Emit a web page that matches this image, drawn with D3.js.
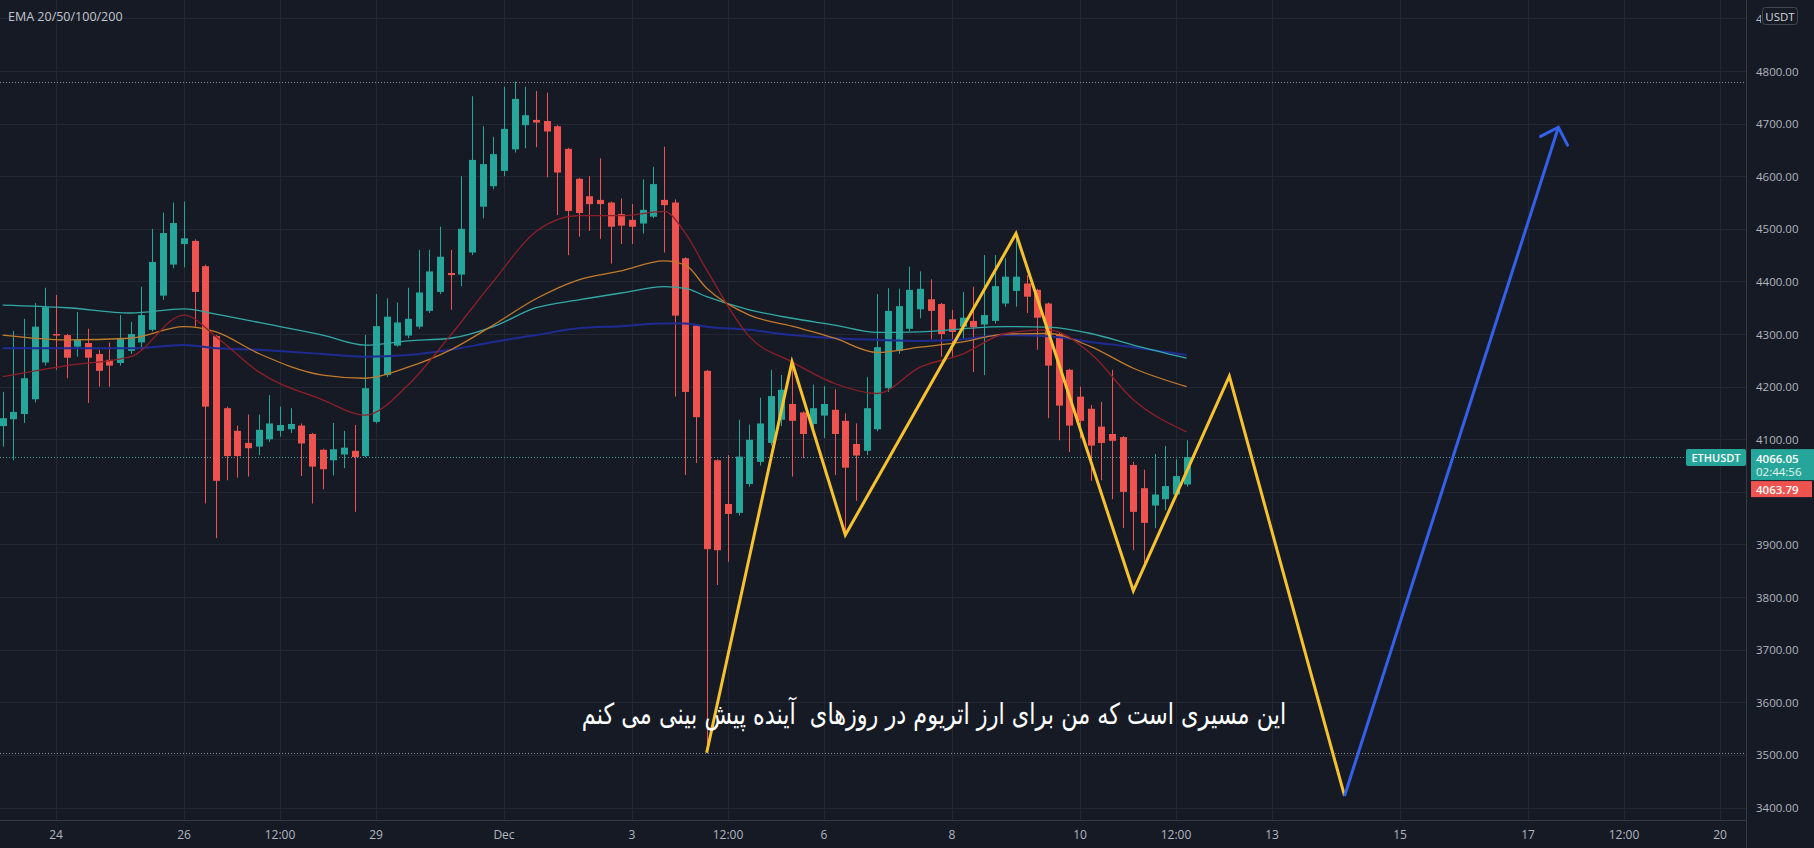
<!DOCTYPE html>
<html>
<head>
<meta charset="utf-8">
<script src="https://cdn.jsdelivr.net/npm/d3@7"></script>
<style>
  body { margin: 0; background: #161a25; overflow: hidden; }
  svg { display: block; }
</style>
</head>
<body>
<svg id="chart"></svg>
<script>
// ETHUSDT 4h candles, first one opens Nov 23 2021 04:00 UTC
const firstCandle = Date.UTC(2021, 10, 23, 4)
const ohlc = [
  [4125, 4190, 4086, 4140], [4138, 4306, 4060, 4152], [4148, 4329, 4131, 4216], [4176, 4359, 4170, 4314],
  [4246, 4388, 4240, 4351], [4300, 4374, 4232, 4298], [4298, 4300, 4216, 4255], [4276, 4342, 4257, 4289],
  [4283, 4310, 4169, 4255], [4262, 4270, 4200, 4230], [4251, 4284, 4200, 4240], [4245, 4336, 4240, 4292],
  [4268, 4323, 4262, 4300], [4284, 4390, 4270, 4336], [4308, 4500, 4305, 4437], [4373, 4531, 4365, 4492],
  [4432, 4550, 4425, 4511], [4471, 4552, 4427, 4482], [4477, 4480, 4314, 4380], [4429, 4432, 3978, 4162],
  [4296, 4298, 3912, 4021], [4159, 4162, 4022, 4068], [4116, 4126, 4027, 4068], [4093, 4147, 4029, 4083],
  [4086, 4147, 4070, 4118], [4100, 4184, 4095, 4130], [4116, 4162, 4105, 4127], [4119, 4159, 4112, 4129],
  [4126, 4130, 4030, 4092], [4110, 4112, 3978, 4048], [4080, 4082, 4005, 4043], [4060, 4131, 4031, 4081],
  [4071, 4116, 4045, 4084], [4078, 4127, 3962, 4066], [4068, 4298, 4066, 4197], [4133, 4376, 4130, 4315],
  [4222, 4368, 4218, 4333], [4278, 4360, 4276, 4322], [4297, 4388, 4292, 4329], [4314, 4460, 4310, 4379],
  [4344, 4460, 4340, 4419], [4380, 4504, 4376, 4447], [4416, 4460, 4346, 4412], [4413, 4600, 4391, 4500],
  [4455, 4752, 4450, 4631], [4542, 4695, 4520, 4623], [4581, 4675, 4575, 4642], [4610, 4770, 4600, 4690],
  [4651, 4780, 4645, 4747], [4697, 4770, 4653, 4716], [4707, 4762, 4655, 4702], [4705, 4759, 4598, 4685],
  [4695, 4697, 4526, 4607], [4652, 4654, 4450, 4534], [4595, 4597, 4485, 4530], [4562, 4600, 4496, 4547],
  [4555, 4634, 4481, 4547], [4550, 4552, 4434, 4504], [4528, 4558, 4471, 4506], [4517, 4547, 4471, 4504],
  [4510, 4594, 4491, 4536], [4523, 4618, 4520, 4585], [4555, 4656, 4455, 4545], [4550, 4556, 4181, 4335],
  [4444, 4446, 4032, 4190], [4316, 4318, 4055, 4142], [4230, 4232, 3503, 3891], [4060, 4062, 3823, 3889],
  [3977, 4070, 3867, 3958], [3960, 4137, 3955, 4067], [4015, 4128, 4010, 4099], [4057, 4179, 4050, 4130],
  [4093, 4232, 4088, 4182], [4137, 4222, 4125, 4194], [4167, 4244, 4029, 4135], [4151, 4153, 4064, 4110],
  [4129, 4204, 4108, 4159], [4145, 4201, 4102, 4167], [4156, 4195, 4032, 4110], [4135, 4149, 3918, 4046],
  [4091, 4130, 3983, 4069], [4078, 4218, 4070, 4159], [4119, 4376, 4115, 4275], [4197, 4387, 4190, 4344],
  [4268, 4386, 4262, 4353], [4310, 4428, 4305, 4384], [4347, 4419, 4330, 4386], [4366, 4404, 4290, 4344],
  [4357, 4359, 4257, 4300], [4328, 4346, 4257, 4304], [4314, 4380, 4292, 4331], [4325, 4390, 4228, 4313],
  [4318, 4450, 4222, 4336], [4325, 4450, 4320, 4391], [4358, 4444, 4352, 4409], [4382, 4491, 4352, 4409],
  [4396, 4412, 4340, 4371], [4384, 4386, 4270, 4331], [4358, 4360, 4140, 4240], [4300, 4302, 4098, 4164],
  [4232, 4234, 4076, 4126], [4181, 4200, 4102, 4135], [4158, 4165, 4021, 4088], [4124, 4171, 4022, 4093],
  [4110, 4232, 3986, 4097], [4104, 4106, 3931, 4000], [4051, 4057, 3889, 3962], [4007, 4042, 3855, 3941],
  [3974, 4072, 3931, 3995], [3986, 4087, 3965, 4011], [3995, 4062, 3990, 4030], [4014, 4098, 4010, 4066.05]
]

// EMA values at these candle indices
const emaIdx = [0, 6, 12, 17, 20, 24, 30, 34, 38, 42, 46, 50, 54, 58, 62, 64, 66, 70, 74, 78, 82, 86, 90, 94, 98, 102, 106, 111]
const ema20 = [4219, 4240, 4257, 4336, 4295, 4228, 4175, 4146, 4203, 4298, 4400, 4495, 4525, 4525, 4533, 4492, 4422, 4295, 4247, 4206, 4187, 4237, 4262, 4301, 4308, 4263, 4175, 4114]
const ema50 = [4298, 4289, 4292, 4314, 4304, 4263, 4222, 4216, 4237, 4270, 4317, 4367, 4403, 4420, 4439, 4431, 4387, 4336, 4315, 4292, 4265, 4275, 4285, 4300, 4301, 4276, 4235, 4200]
const ema100 = [4355, 4350, 4340, 4348, 4338, 4322, 4298, 4279, 4287, 4292, 4314, 4350, 4365, 4378, 4390, 4387, 4371, 4346, 4330, 4317, 4303, 4304, 4310, 4314, 4313, 4301, 4279, 4254]
const ema200 = [4273, 4273, 4273, 4279, 4273, 4270, 4262, 4257, 4260, 4270, 4285, 4298, 4311, 4315, 4320, 4320, 4314, 4308, 4298, 4292, 4289, 4287, 4290, 4298, 4296, 4285, 4275, 4260]

// drawn path: [candle index, price]
const zigzag = [[66, 3504], [74, 4247], [79, 3918], [95, 4491], [106, 3812], [115, 4220], [125.8, 3422]]
const arrowPath = [[125.8, 3422], [145.85, 4693]]

const priceTicks = [3400, 3500, 3600, 3700, 3800, 3900, 4000, 4100, 4200, 4300, 4400, 4500, 4600, 4700, 4800, 4900]
const timeTicks = [
  ['2021-11-24T00:00Z', '24'], ['2021-11-26T00:00Z', '26'], ['2021-11-27T12:00Z', '12:00'], ['2021-11-29T00:00Z', '29'],
  ['2021-12-01T00:00Z', 'Dec'], ['2021-12-03T00:00Z', '3'], ['2021-12-04T12:00Z', '12:00'], ['2021-12-06T00:00Z', '6'],
  ['2021-12-08T00:00Z', '8'], ['2021-12-10T00:00Z', '10'], ['2021-12-11T12:00Z', '12:00'], ['2021-12-13T00:00Z', '13'],
  ['2021-12-15T00:00Z', '15'], ['2021-12-17T00:00Z', '17'], ['2021-12-18T12:00Z', '12:00'], ['2021-12-20T00:00Z', '20']
]

const lastPrice = 4066.05
const bidPrice = 4063.79
const countdown = '02:44:56'
const noteText = 'این مسیری است که من برای ارز اتریوم در روزهای  آینده پیش بینی می کنم'

const W = 1814, H = 848
const plotRight = 1746, plotBottom = 820
const upColor = '#26a69a', downColor = '#ef5350'
const uiFont = '"Open Sans", "Liberation Sans", sans-serif'

const svg = d3.select('#chart').attr('width', W).attr('height', H)

const x = d3.scaleUtc()
  .domain([new Date(Date.UTC(2021, 10, 24)), new Date(Date.UTC(2021, 11, 20))])
  .range([56, 1720])
const y = d3.scaleLinear().domain([3400, 4800]).range([807.5, 71])
const candleTime = i => new Date(firstCandle + i * 4 * 3600 * 1000)

svg.append('rect').attr('width', W).attr('height', H).attr('fill', '#161a25')

const defs = svg.append('defs')
defs.append('clipPath').attr('id', 'plot')
  .append('rect').attr('width', plotRight).attr('height', plotBottom)
// the top price label sits under the currency badge, only its first digit shows
defs.append('clipPath').attr('id', 'badgeCut')
  .append('rect').attr('x', 1748).attr('y', 0).attr('width', 13).attr('height', 30)

// grid
const grid = svg.append('g').attr('clip-path', 'url(#plot)')
grid.selectAll('line.h').data(priceTicks).enter().append('line')
  .attr('x1', 0).attr('x2', plotRight)
  .attr('y1', d => Math.round(y(d)) + 0.5).attr('y2', d => Math.round(y(d)) + 0.5)
  .attr('stroke', '#232734')
grid.selectAll('line.v').data(timeTicks).enter().append('line')
  .attr('x1', d => Math.round(x(new Date(d[0]))) + 0.5).attr('x2', d => Math.round(x(new Date(d[0]))) + 0.5)
  .attr('y1', 0).attr('y2', plotBottom)
  .attr('stroke', '#232734')

const candles = ohlc.map((d, i) => ({ t: candleTime(i), o: d[0], h: d[1], l: d[2], c: d[3] }))

// high / low / last price dotted lines
const hi = d3.max(candles, d => d.h)
const lo = d3.min(candles, d => d.l)
const dotted = svg.append('g')
dotted.selectAll('line').data([[hi, '#8a8d96'], [lo, '#8a8d96'], [lastPrice, '#4d9c98']]).enter().append('line')
  .attr('x1', 0).attr('x2', plotRight)
  .attr('y1', d => Math.round(y(d[0])) + 0.5).attr('y2', d => Math.round(y(d[0])) + 0.5)
  .attr('stroke', d => d[1]).attr('stroke-dasharray', '1,2')

// candles
const cg = svg.append('g').attr('clip-path', 'url(#plot)')
cg.selectAll('line').data(candles).enter().append('line')
  .attr('x1', d => Math.round(x(d.t)) + 0.5).attr('x2', d => Math.round(x(d.t)) + 0.5)
  .attr('y1', d => y(d.h)).attr('y2', d => y(d.l))
  .attr('stroke', d => d.c >= d.o ? upColor : downColor)
cg.selectAll('rect').data(candles).enter().append('rect')
  .attr('x', d => Math.round(x(d.t)) - 3)
  .attr('width', 7)
  .attr('y', d => y(Math.max(d.o, d.c)))
  .attr('height', d => Math.max(1.5, Math.abs(y(d.o) - y(d.c))))
  .attr('fill', d => d.c >= d.o ? upColor : downColor)

// EMAs
const emaLine = d3.line().x(d => x(candleTime(d[0]))).y(d => y(d[1])).curve(d3.curveMonotoneX)
const emas = [[ema200, '#1f2b94', 2], [ema100, '#33a9a6', 1.3], [ema50, '#c27a2b', 1.3], [ema20, '#8e1f27', 1.3]]
emas.forEach(([vals, color, w]) => {
  cg.append('path')
    .datum(vals.map((v, k) => [emaIdx[k], v]))
    .attr('d', emaLine)
    .attr('fill', 'none').attr('stroke', color).attr('stroke-width', w)
})

// drawn prediction path
const pathLine = d3.line().x(d => x(candleTime(d[0]))).y(d => y(d[1]))
cg.append('path').datum(zigzag).attr('d', pathLine)
  .attr('fill', 'none').attr('stroke', '#f7c22f').attr('stroke-width', 3).attr('stroke-linejoin', 'miter')

cg.append('path').datum(arrowPath).attr('d', pathLine)
  .attr('fill', 'none').attr('stroke', '#3461ea').attr('stroke-width', 3)

// arrow head
const tipX = x(candleTime(arrowPath[1][0])), tipY = y(arrowPath[1][1])
const baseX = x(candleTime(arrowPath[0][0])), baseY = y(arrowPath[0][1])
const ang = Math.atan2(baseY - tipY, baseX - tipX)
const headLen = 20
const barbs = [ang - Math.PI / 4, ang + Math.PI / 4].map(a => [tipX + headLen * Math.cos(a), tipY + headLen * Math.sin(a)])
cg.append('path')
  .attr('d', `M${barbs[0][0]},${barbs[0][1]}L${tipX},${tipY}L${barbs[1][0]},${barbs[1][1]}`)
  .attr('fill', 'none').attr('stroke', '#3461ea').attr('stroke-width', 3).attr('stroke-linecap', 'round')

// annotation text: taller, narrower face than DejaVu, so squeeze it to the reference width
const noteG = svg.append('g')
const note = noteG.append('text')
  .attr('x', 0).attr('y', 0)
  .attr('text-anchor', 'middle')
  .attr('fill', '#ffffff')
  .style('font-family', '"DejaVu Sans", sans-serif')
  .style('font-size', '24px')
  .style('white-space', 'pre')
  .text(noteText)
const noteW = note.node().getComputedTextLength()
const noteSize = 24 * 705 / noteW * 1.3
note.style('font-size', noteSize.toFixed(2) + 'px')
noteG.attr('transform', `translate(934,724) scale(${(1 / 1.3).toFixed(4)},1)`)

// axes borders
svg.append('line').attr('x1', plotRight + 0.5).attr('x2', plotRight + 0.5).attr('y1', 0).attr('y2', H)
  .attr('stroke', '#363a45')
svg.append('line').attr('x1', 0).attr('x2', plotRight).attr('y1', plotBottom + 0.5).attr('y2', plotBottom + 0.5)
  .attr('stroke', '#363a45')

// price labels
svg.append('g').selectAll('text').data(priceTicks).enter().append('text')
  .attr('x', 1756).attr('y', d => y(d))
  .attr('dominant-baseline', 'central')
  .attr('clip-path', d => d === 4900 ? 'url(#badgeCut)' : null)
  .attr('fill', '#b2b5be')
  .style('font-family', uiFont).style('font-size', '11.5px')
  .text(d => d3.format('.2f')(d))

// time labels
svg.append('g').selectAll('text').data(timeTicks).enter().append('text')
  .attr('x', d => x(new Date(d[0]))).attr('y', 834)
  .attr('text-anchor', 'middle').attr('dominant-baseline', 'central')
  .attr('fill', '#b2b5be')
  .style('font-family', uiFont).style('font-size', '12px')
  .text(d => d[1])

// currency badge
svg.append('rect').attr('x', 1762.5).attr('y', 7.5).attr('width', 35).attr('height', 17).attr('rx', 3)
  .attr('fill', '#161a25').attr('stroke', '#434651')
svg.append('text').attr('x', 1780).attr('y', 16.5)
  .attr('text-anchor', 'middle').attr('dominant-baseline', 'central')
  .attr('fill', '#d1d4dc').style('font-family', uiFont).style('font-size', '11.5px')
  .text('USDT')

// last price tags
const ly = y(lastPrice)
svg.append('rect').attr('x', 1686).attr('y', ly - 8).attr('width', 60).attr('height', 17).attr('rx', 2)
  .attr('fill', upColor)
svg.append('text').attr('x', 1716).attr('y', ly + 0.5)
  .attr('text-anchor', 'middle').attr('dominant-baseline', 'central')
  .attr('fill', '#ffffff').style('font-family', uiFont).style('font-size', '11px').style('font-weight', 600)
  .text('ETHUSDT')
svg.append('rect').attr('x', 1751).attr('y', ly - 8).attr('width', 63).attr('height', 31)
  .attr('fill', upColor)
svg.append('text').attr('x', 1756).attr('y', ly + 1)
  .attr('dominant-baseline', 'central')
  .attr('fill', '#ffffff').style('font-family', uiFont).style('font-size', '11.5px').style('font-weight', 600)
  .text(d3.format('.2f')(lastPrice))
svg.append('text').attr('x', 1756).attr('y', ly + 14)
  .attr('dominant-baseline', 'central')
  .attr('fill', '#e6f4f2').style('font-family', uiFont).style('font-size', '11.5px')
  .text(countdown)
svg.append('rect').attr('x', 1751).attr('y', ly + 24).attr('width', 61).attr('height', 16)
  .attr('fill', downColor)
svg.append('text').attr('x', 1756).attr('y', ly + 32)
  .attr('dominant-baseline', 'central')
  .attr('fill', '#ffffff').style('font-family', uiFont).style('font-size', '11.5px').style('font-weight', 600)
  .text(d3.format('.2f')(bidPrice))

// indicator legend
svg.append('text').attr('x', 8).attr('y', 16)
  .attr('dominant-baseline', 'central')
  .attr('fill', '#c3c6ce')
  .style('font-family', uiFont).style('font-size', '12.5px')
  .text('EMA 20/50/100/200')
</script>
</body>
</html>
